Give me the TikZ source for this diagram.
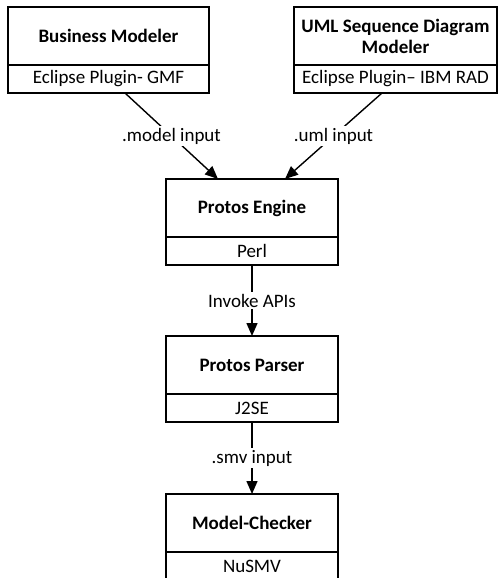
\documentclass[tikz,border=0pt]{standalone}
\usepackage{fontspec}
\setmainfont{Carlito}
\usetikzlibrary{positioning, arrows.meta}

\tikzset{
  titlebox/.style={draw, line width=1.8pt, outer sep=0pt, minimum width=#1, minimum height=58pt,
    inner sep=2pt, align=center, font=\bfseries\fontsize{19}{21}\selectfont},
  subbox/.style={draw, line width=1.8pt, outer sep=0pt, minimum width=#1, minimum height=28pt,
    inner sep=1pt, font=\fontsize{19}{21}\selectfont},
  flow/.style={-{Triangle[length=13pt,width=11pt]}, line width=1.4pt},
  lbl/.style={fill=white, inner sep=2pt, font=\fontsize{19}{21}\selectfont}
}

\begin{document}
\begin{tikzpicture}[x=1pt, y=1pt]
            \useasboundingbox (0,0) rectangle (498,-578);
            % modelers
            \node[titlebox=201pt] (bm) at (108.5, -36) {Business Modeler};
            \node[subbox=201pt, below=0pt of bm] (bmsub) {Eclipse Plugin- GMF};
            \node[titlebox=203pt] (uml) at (395.5, -36) {UML Sequence Diagram\\Modeler};
            \node[subbox=203pt, below=0pt of uml] (umlsub) {Eclipse Plugin-- IBM RAD};
            % tool chain
            \node[titlebox=172pt] (pe) at (252, -208) {Protos Engine};
            \node[subbox=172pt, below=0pt of pe] (pesub) {Perl};
            \node[titlebox=172pt] (pp) at (252, -365) {Protos Parser};
            \node[subbox=172pt, below=0pt of pp] (ppsub) {J2SE};
            \node[titlebox=172pt] (mc) at (252, -523) {Model-Checker};
            \node[subbox=172pt, below=0pt of mc] (mcsub) {NuSMV};
            % inputs
            \draw[flow] ([xshift=16.5pt]bmsub.south) -- node[lbl] {.model input} ([xshift=-34pt]pe.north);
            \draw[flow] ([xshift=-13.5pt]umlsub.south) -- node[lbl] {.uml input} ([xshift=33pt]pe.north);
            \draw[flow] (pesub.south) -- node[lbl] {Invoke APIs} (pp.north);
            \draw[flow] (ppsub.south) -- node[lbl] {.smv input} (mc.north);
        \end{tikzpicture}
\end{document}
